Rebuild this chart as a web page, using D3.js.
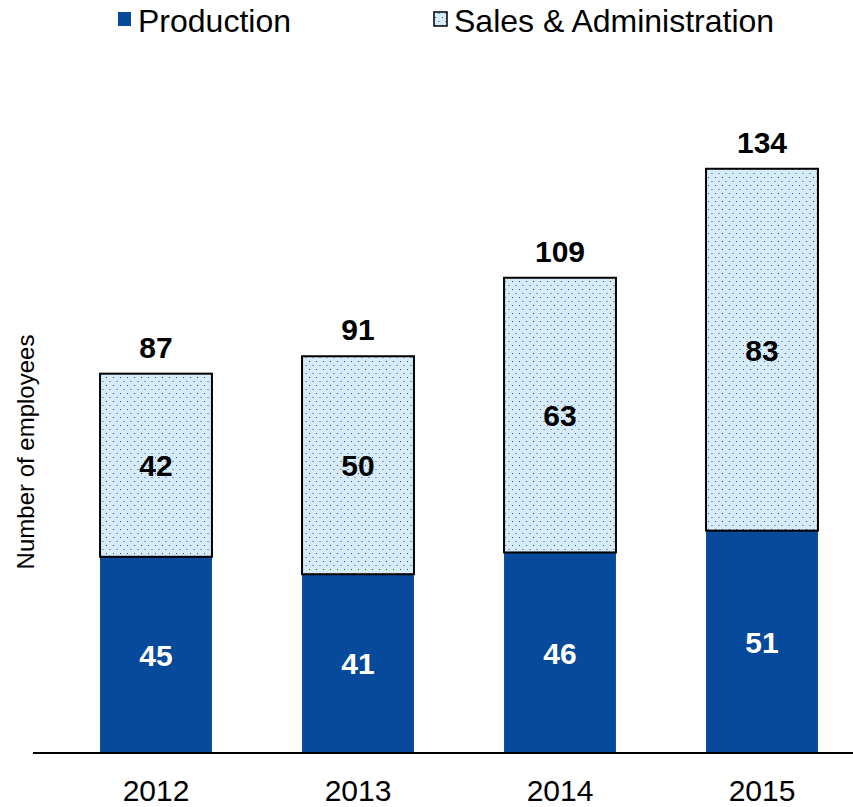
<!DOCTYPE html>
<html>
<head>
<meta charset="utf-8">
<script src="https://cdn.jsdelivr.net/npm/d3@7"></script>
<style>
  html, body { margin: 0; padding: 0; background: #fff; }
  svg { display: block; font-family: "Liberation Sans", Arial, sans-serif; }
</style>
</head>
<body>
<svg id="chart" width="853" height="807"></svg>
<script>
// Employees by function, per year
const years = ["2012", "2013", "2014", "2015"];
const production = [45, 41, 46, 51];
const salesAdmin = [42, 50, 63, 83];
const totals = [87, 91, 109, 134];
const seriesNames = ["Production", "Sales & Administration"];

const W = 853, H = 807;
const baseY = 753;
const svg = d3.select("#chart");

const blue = "#07499a";
const pale = "#d6ecfb";

// dotted fill for the sales & administration segments
const defs = svg.append("defs");
const pat = defs.append("pattern")
  .attr("id", "dots")
  .attr("patternUnits", "userSpaceOnUse")
  .attr("width", 7).attr("height", 8);
pat.append("rect").attr("width", 7).attr("height", 8).attr("fill", pale);
pat.append("rect").attr("x", 1).attr("y", 1).attr("width", 1).attr("height", 1).attr("fill", "#3a4a5c");
pat.append("rect").attr("x", 4.5).attr("y", 5).attr("width", 1).attr("height", 1).attr("fill", "#3a4a5c");

const x = d3.scaleBand()
  .domain(years)
  .range([55, 863])
  .paddingInner(0.446)
  .paddingOuter(0.223);

const y = d3.scaleLinear().domain([0, 140]).range([baseY, baseY - 140 * 4.36]);

const rows = years.map((yr, i) => ({
  year: yr, prod: production[i], sales: salesAdmin[i], total: totals[i]
}));

// production segments
svg.append("g").selectAll("rect")
  .data(rows).join("rect")
  .attr("x", d => x(d.year))
  .attr("y", d => y(d.prod))
  .attr("width", x.bandwidth())
  .attr("height", d => y(0) - y(d.prod))
  .attr("fill", blue);

// sales & administration segments
svg.append("g").selectAll("rect")
  .data(rows).join("rect")
  .attr("x", d => x(d.year))
  .attr("y", d => y(d.prod + d.sales))
  .attr("width", x.bandwidth())
  .attr("height", d => y(d.prod) - y(d.prod + d.sales))
  .attr("fill", "url(#dots)")
  .attr("stroke", "#000")
  .attr("stroke-width", 2);

const labelSize = 30;

// segment value labels
svg.append("g").selectAll("text")
  .data(rows).join("text")
  .attr("x", d => x(d.year) + x.bandwidth() / 2)
  .attr("y", d => (y(0) + y(d.prod)) / 2)
  .attr("dy", "0.36em")
  .attr("text-anchor", "middle")
  .attr("font-size", labelSize).attr("font-weight", "bold")
  .attr("fill", "#fff")
  .text(d => d.prod);

svg.append("g").selectAll("text")
  .data(rows).join("text")
  .attr("x", d => x(d.year) + x.bandwidth() / 2)
  .attr("y", d => (y(d.prod) + y(d.prod + d.sales)) / 2)
  .attr("dy", "0.36em")
  .attr("text-anchor", "middle")
  .attr("font-size", labelSize).attr("font-weight", "bold")
  .attr("fill", "#000")
  .text(d => d.sales);

// totals above each bar
svg.append("g").selectAll("text")
  .data(rows).join("text")
  .attr("x", d => x(d.year) + x.bandwidth() / 2)
  .attr("y", d => y(d.total) - 16)
  .attr("text-anchor", "middle")
  .attr("font-size", labelSize).attr("font-weight", "bold")
  .attr("fill", "#000")
  .text(d => d.total);

// x axis
const xAxis = svg.append("g")
  .attr("transform", `translate(0,${baseY})`)
  .call(d3.axisBottom(x).tickSize(0).tickPadding(27));
xAxis.select(".domain").remove();
xAxis.append("line")
  .attr("x1", 33).attr("x2", W).attr("y1", 0).attr("y2", 0)
  .attr("stroke", "#000").attr("stroke-width", 2);
xAxis.selectAll(".tick text")
  .attr("font-size", 30)
  .attr("font-family", "Liberation Sans, Arial, sans-serif")
  .attr("fill", "#000");

// y axis title
svg.append("text")
  .attr("transform", "translate(34,452) rotate(-90)")
  .attr("text-anchor", "middle")
  .attr("font-size", 24)
  .attr("fill", "#000")
  .text("Number of employees");

// legend
const legend = svg.append("g");
const legendItems = [
  { name: seriesNames[0], fill: blue, stroke: "none", sx: 118, tx: 138 },
  { name: seriesNames[1], fill: "url(#dots)", stroke: "#000", sx: 434, tx: 454 }
];
legendItems.forEach(it => {
  legend.append("rect")
    .attr("x", it.sx).attr("y", 12)
    .attr("width", 13).attr("height", 14)
    .attr("fill", it.fill)
    .attr("stroke", it.stroke).attr("stroke-width", 1.5);
  legend.append("text")
    .attr("x", it.tx).attr("y", 32)
    .attr("font-size", 32)
    .attr("fill", "#000")
    .text(it.name);
});
</script>
</body>
</html>
